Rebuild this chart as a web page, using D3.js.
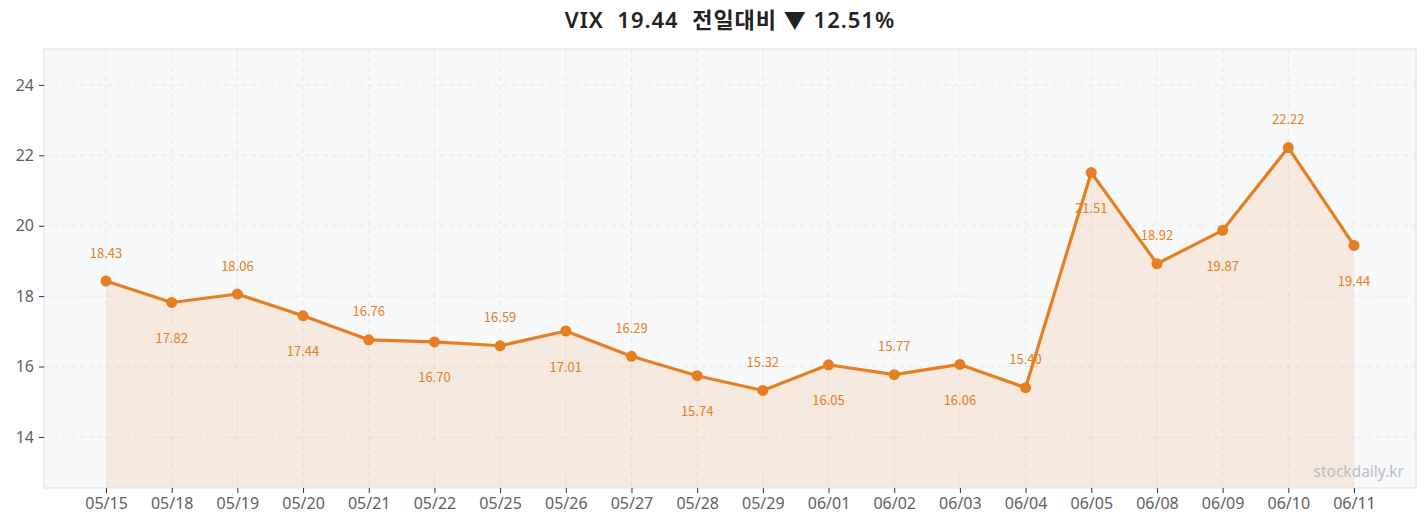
<!DOCTYPE html>
<html>
<head>
<meta charset="utf-8">
<script src="https://cdn.jsdelivr.net/npm/d3@7"></script>
<style>
  body { margin: 0; background: #fff; }
  svg { display: block; }
</style>
</head>
<body>
<div id="chart"></div>
<script>
const dates = ["05/15", "05/18", "05/19", "05/20", "05/21", "05/22", "05/25", "05/26", "05/27", "05/28",
    "05/29", "06/01", "06/02", "06/03", "06/04", "06/05", "06/08", "06/09", "06/10", "06/11"];
const closes = [18.43, 17.82, 18.06, 17.44, 16.76, 16.70, 16.59, 17.01, 16.29, 15.74,
    15.32, 16.05, 15.77, 16.06, 15.40, 21.51, 18.92, 19.87, 22.22, 19.44];
const yTicks = [14, 16, 18, 20, 22, 24];
const title = "VIX  19.44  전일대비 ▼ 12.51%";

const W = 1427, H = 528;
const margin = {top: 49, right: 11, bottom: 40, left: 44};
const font = "'Noto Sans', 'Noto Sans CJK KR', sans-serif";
const labelFont = "'Noto Sans CJK KR', sans-serif";
const orange = "#E67E22";

const data = dates.map((d, i) => ({date: d, value: closes[i], i: i}));

const svg = d3.select("#chart").append("svg")
    .attr("width", W)
    .attr("height", H);

const x = d3.scalePoint()
    .domain(dates)
    .range([margin.left, W - margin.right])
    .padding(0.944);

const y = d3.scaleLinear()
    .domain([12.55, 25.02])
    .range([H - margin.bottom, margin.top]);

// plot background
svg.append("rect")
    .attr("x", margin.left)
    .attr("y", margin.top)
    .attr("width", W - margin.left - margin.right)
    .attr("height", H - margin.top - margin.bottom)
    .attr("fill", "#F8F9FB");

// grid
svg.append("g")
    .selectAll("line")
    .data(yTicks)
    .join("line")
        .attr("x1", margin.left)
        .attr("x2", W - margin.right)
        .attr("y1", d => y(d))
        .attr("y2", d => y(d))
        .attr("stroke", "#E6E8EC")
        .attr("stroke-dasharray", "5,4");

svg.append("g")
    .selectAll("line")
    .data(dates)
    .join("line")
        .attr("x1", d => x(d))
        .attr("x2", d => x(d))
        .attr("y1", margin.top)
        .attr("y2", H - margin.bottom)
        .attr("stroke", "#E6E8EC")
        .attr("stroke-dasharray", "5,4");

// area
const area = d3.area()
    .x(d => x(d.date))
    .y0(H - margin.bottom)
    .y1(d => y(d.value));

svg.append("path")
    .datum(data)
    .attr("d", area)
    .attr("fill", orange)
    .attr("fill-opacity", 0.12);

// frame
svg.append("rect")
    .attr("x", margin.left)
    .attr("y", margin.top)
    .attr("width", W - margin.left - margin.right)
    .attr("height", H - margin.top - margin.bottom)
    .attr("fill", "none")
    .attr("stroke", "#DDE0E5");

// axes
const xAxis = svg.append("g")
    .attr("transform", `translate(0,${H - margin.bottom})`)
    .call(d3.axisBottom(x).tickSize(5).tickPadding(5));
xAxis.select(".domain").remove();
xAxis.selectAll(".tick line").attr("stroke", "#333");
xAxis.selectAll(".tick text")
    .style("font-family", font)
    .style("font-size", "16px")
    .attr("fill", "#5f5f5f");

const yAxis = svg.append("g")
    .attr("transform", `translate(${margin.left},0)`)
    .call(d3.axisLeft(y).tickValues(yTicks).tickSize(5).tickPadding(5));
yAxis.select(".domain").remove();
yAxis.selectAll(".tick line").attr("stroke", "#333");
yAxis.selectAll(".tick text")
    .style("font-family", font)
    .style("font-size", "16px")
    .attr("fill", "#5f5f5f");

// line
const line = d3.line()
    .x(d => x(d.date))
    .y(d => y(d.value));

svg.append("path")
    .datum(data)
    .attr("d", line)
    .attr("fill", "none")
    .attr("stroke", orange)
    .attr("stroke-width", 3.2)
    .attr("stroke-linejoin", "round");

svg.append("g")
    .selectAll("circle")
    .data(data)
    .join("circle")
        .attr("cx", d => x(d.date))
        .attr("cy", d => y(d.value))
        .attr("r", 5.5)
        .attr("fill", orange);

// value labels, alternating above / below
svg.append("g")
    .selectAll("text")
    .data(data)
    .join("text")
        .attr("x", d => x(d.date))
        .attr("y", d => d.i % 2 === 0 ? y(d.value) - 27 : y(d.value) + 37)
        .attr("text-anchor", "middle")
        .attr("dominant-baseline", "middle")
        .style("font-family", labelFont)
        .style("font-size", "13px")
        .attr("fill", orange)
        .text(d => d.value.toFixed(2));

// watermark
svg.append("text")
    .attr("x", W - margin.right - 12)
    .attr("y", H - margin.bottom - 11)
    .attr("text-anchor", "end")
    .style("font-family", font)
    .style("font-size", "15.5px")
    .attr("fill", "#BBBEC4")
    .text("stockdaily.kr");

// title
svg.append("text")
    .attr("x", (margin.left + W - margin.right) / 2)
    .attr("y", 22)
    .attr("text-anchor", "middle")
    .attr("dominant-baseline", "middle")
    .style("white-space", "pre")
    .style("font-family", font)
    .style("font-size", "22px")
    .style("font-weight", 600)
    .style("letter-spacing", "1px")
    .attr("fill", "#222")
    .text(title);
</script>
</body>
</html>
